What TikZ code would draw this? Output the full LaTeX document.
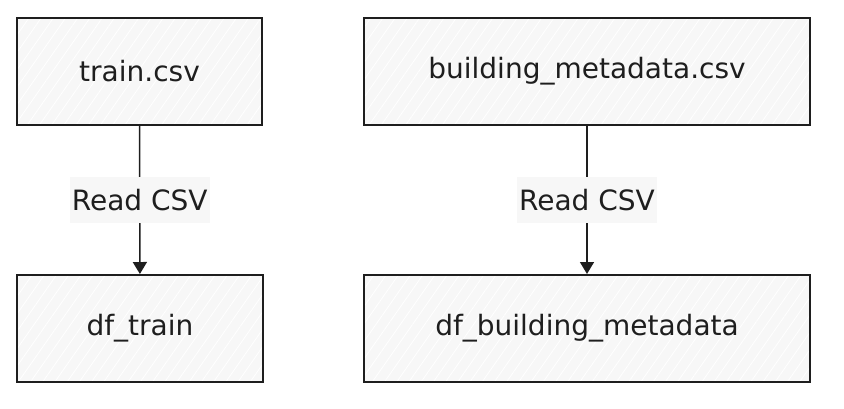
\documentclass[tikz,border=0pt]{standalone}
\usepackage{fontspec}
\setmainfont{DejaVu Sans}
\usetikzlibrary{arrows.meta,patterns.meta}
\definecolor{ink}{HTML}{1E1E1E}
\definecolor{boxfill}{HTML}{F7F7F7}
\tikzset{
  databox/.style={draw=ink, line width=2pt, preaction={fill=boxfill},
    pattern={Lines[angle=55,distance=10pt,line width=0.8pt]}, pattern color=white,
    minimum height=107pt, inner sep=0pt, font=\fontsize{28}{32}\selectfont, text=ink},
  flow/.style={draw=ink, line width=1.5pt, -{Triangle[length=12pt,width=14pt]}},
  flowlabel/.style={fill=boxfill, text=ink, inner xsep=2pt, inner ysep=0pt,
    minimum height=46pt, font=\fontsize{28}{32}\selectfont}
}
\begin{document}
\begin{tikzpicture}[x=1pt,y=-1pt]
\useasboundingbox (0,0) rectangle (844,408);
\node[databox, minimum width=245pt] (train) at (139.5,71.5) {train.csv};
\node[databox, minimum width=446pt] (bmeta) at (587,71.5) {building\_metadata.csv};
\node[databox, minimum width=246pt] (dftrain) at (140,328.5) {df\_train};
\node[databox, minimum width=446pt] (dfbmeta) at (587,328.5) {df\_building\_metadata};
\draw[flow] (train) -- node[flowlabel] (l1) {Read CSV} (dftrain);
\draw[flow] (bmeta) -- node[flowlabel] (l2) {Read CSV} (dfbmeta);
\end{tikzpicture}
\end{document}
